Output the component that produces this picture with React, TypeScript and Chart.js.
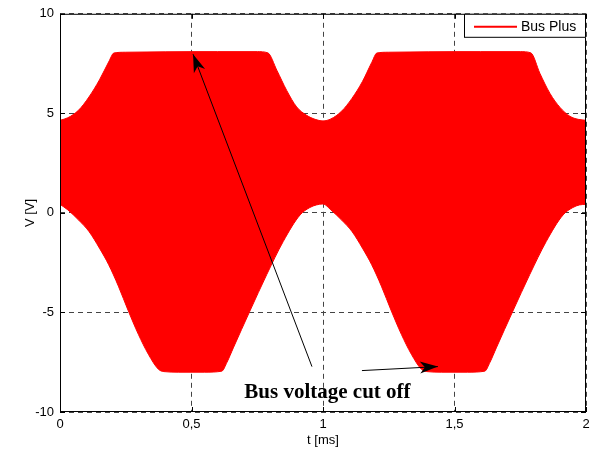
import React, { useEffect, useRef } from "react";
import { Chart, registerables } from "chart.js";

Chart.register(...registerables);

// ---- data ----
const SERIES_LABEL = "Bus Plus";
const X_TICKS = [0, 0.5, 1, 1.5, 2];
const X_TICK_LABELS = ["0", "0,5", "1", "1,5", "2"];
const Y_TICKS = [-10, -5, 0, 5, 10];
const Y_TICK_LABELS = ["-10", "-5", "0", "5", "10"];

// upper envelope of the switching waveform (t in ms, V)
const UPPER_T = [0, 0.03, 0.07, 0.11, 0.15, 0.185, 0.205, 0.25, 0.4, 0.5, 0.6, 0.75, 0.79, 0.825, 0.862, 0.9, 0.938, 0.97, 1.0,
  1.03, 1.07, 1.11, 1.15, 1.185, 1.205, 1.25, 1.4, 1.5, 1.6, 1.75, 1.79, 1.825, 1.863, 1.901, 1.939, 1.97, 2.0];
const UPPER_V = [4.65, 4.78, 5.15, 5.82, 6.68, 7.58, 8.03, 8.07, 8.09, 8.1, 8.1, 8.1, 8.04, 7.15, 6.15, 5.32, 4.9, 4.7, 4.62,
  4.72, 5.1, 5.75, 6.6, 7.55, 8.03, 8.07, 8.09, 8.1, 8.1, 8.1, 8.04, 7.0, 6.0, 5.3, 4.85, 4.7, 4.65];

// lower envelope
const LOWER_T = [0, 0.03, 0.07, 0.11, 0.15, 0.185, 0.222, 0.26, 0.298, 0.336, 0.374, 0.395, 0.45, 0.55, 0.615, 0.635, 0.659, 0.722, 0.786, 0.849, 0.913, 0.95, 0.975, 1.0,
  1.03, 1.07, 1.11, 1.15, 1.185, 1.222, 1.26, 1.298, 1.336, 1.374, 1.395, 1.45, 1.55, 1.615, 1.635, 1.659, 1.722, 1.786, 1.849, 1.913, 1.95, 1.975, 2.0];
const LOWER_V = [0.43, 0.15, -0.35, -0.93, -1.77, -2.6, -3.68, -4.93, -6.1, -7.1, -7.85, -7.97, -8.0, -8.0, -7.95, -7.5, -6.78, -4.93, -3.1, -1.43, -0.1, 0.27, 0.4, 0.45,
  0.15, -0.35, -0.93, -1.77, -2.6, -3.68, -4.93, -6.1, -7.1, -7.85, -7.97, -8.0, -8.0, -7.95, -7.5, -6.78, -4.93, -3.1, -1.43, -0.1, 0.27, 0.4, 0.43];

// annotation (data units)
const NOTE_TEXT = "Bus voltage cut off";
const NOTE_POS = { x: 1.017, y: -9.32 };
const ARROW_1 = { from: { x: 0.958, y: -7.72 }, to: { x: 0.506, y: 7.97 } };
const ARROW_2 = { from: { x: 1.148, y: -7.92 }, to: { x: 1.437, y: -7.72 } };

const SANS = "'Liberation Sans', Arial, Helvetica, sans-serif";
const SERIF = "'Liberation Serif', 'Times New Roman', serif";

function drawArrow(ctx: CanvasRenderingContext2D, x1: number, y1: number, x2: number, y2: number) {
  ctx.beginPath();
  ctx.moveTo(x1, y1);
  ctx.lineTo(x2, y2);
  ctx.stroke();
  const a = Math.atan2(y2 - y1, x2 - x1);
  const c = Math.cos(a), s = Math.sin(a);
  const L = 18, W = 6, N = 5;
  ctx.beginPath();
  ctx.moveTo(x2, y2);
  ctx.lineTo(x2 - L * c + W * s, y2 - L * s - W * c);
  ctx.lineTo(x2 - (L - N) * c, y2 - (L - N) * s);
  ctx.lineTo(x2 - L * c - W * s, y2 - L * s + W * c);
  ctx.closePath();
  ctx.fill();
}

const overlayPlugin = {
  id: "overlay",
  afterDatasetsDraw(chart: any) {
    const { ctx, chartArea: a, scales } = chart;
    const xs = scales.x, ys = scales.y;
    ctx.save();
    ctx.strokeStyle = "#000";
    ctx.fillStyle = "#000";
    ctx.lineWidth = 1;
    // box
    ctx.strokeRect(a.left + 0.5, a.top + 0.5, a.right - a.left - 1, a.bottom - a.top - 1);
    // inward ticks
    const TL = 5;
    ctx.beginPath();
    X_TICKS.forEach((v) => {
      const px = Math.round(xs.getPixelForValue(v)) + 0.5;
      ctx.moveTo(px, a.bottom);
      ctx.lineTo(px, a.bottom - TL);
      ctx.moveTo(px, a.top);
      ctx.lineTo(px, a.top + TL);
    });
    Y_TICKS.forEach((v) => {
      const py = Math.round(ys.getPixelForValue(v)) + 0.5;
      ctx.moveTo(a.left, py);
      ctx.lineTo(a.left + TL, py);
      ctx.moveTo(a.right, py);
      ctx.lineTo(a.right - TL, py);
    });
    ctx.stroke();

    // legend
    const lw = 122, lh = 24;
    const lx = a.right - lw, ly = a.top;
    ctx.fillStyle = "#fff";
    ctx.fillRect(lx, ly, lw, lh);
    ctx.strokeStyle = "#000";
    ctx.strokeRect(lx + 0.5, ly + 0.5, lw - 1, lh - 1);
    ctx.strokeStyle = "#ff0000";
    ctx.lineWidth = 2;
    ctx.beginPath();
    ctx.moveTo(lx + 10, ly + 13);
    ctx.lineTo(lx + 53, ly + 13);
    ctx.stroke();
    ctx.fillStyle = "#000";
    ctx.font = "14px " + SANS;
    ctx.textAlign = "left";
    ctx.textBaseline = "middle";
    ctx.fillText(chart.data.datasets[0].label, lx + 57, ly + 13);

    // annotation arrows + text
    ctx.strokeStyle = "#000";
    ctx.fillStyle = "#000";
    ctx.lineWidth = 1;
    [ARROW_1, ARROW_2].forEach((ar) => {
      drawArrow(
        ctx,
        xs.getPixelForValue(ar.from.x), ys.getPixelForValue(ar.from.y),
        xs.getPixelForValue(ar.to.x), ys.getPixelForValue(ar.to.y)
      );
    });
    ctx.font = "bold 21px " + SERIF;
    ctx.textAlign = "center";
    ctx.textBaseline = "alphabetic";
    ctx.fillText(NOTE_TEXT, xs.getPixelForValue(NOTE_POS.x), ys.getPixelForValue(NOTE_POS.y));
    ctx.restore();
  },
};

export default function App() {
  const ref = useRef<HTMLCanvasElement | null>(null);
  useEffect(() => {
    document.body.style.margin = "0";
    const canvas = ref.current!;
    Chart.defaults.font.family = SANS;
    Chart.defaults.color = "#000";
    const upper = UPPER_T.map((t, i) => ({ x: t, y: UPPER_V[i] }));
    const lower = LOWER_T.map((t, i) => ({ x: t, y: LOWER_V[i] }));
    const chart = new Chart(canvas, {
      type: "line",
      data: {
        datasets: [
          {
            label: SERIES_LABEL,
            data: upper,
            borderColor: "#ff0000",
            backgroundColor: "#ff0000",
            borderWidth: 1,
            pointRadius: 0,
            cubicInterpolationMode: "monotone",
            fill: false,
          },
          {
            label: SERIES_LABEL + " (min)",
            data: lower,
            borderColor: "#ff0000",
            backgroundColor: "#ff0000",
            borderWidth: 1,
            pointRadius: 0,
            cubicInterpolationMode: "monotone",
            fill: "-1",
          },
        ],
      },
      options: {
        animation: false,
        responsive: false,
        maintainAspectRatio: false,
        layout: { padding: { top: 13, right: 9, left: 0, bottom: 0 } },
        plugins: { legend: { display: false }, tooltip: { enabled: false } },
        scales: {
          x: {
            type: "linear",
            min: 0,
            max: 2,
            afterBuildTicks: (s: any) => {
              s.ticks = X_TICKS.map((v) => ({ value: v }));
            },
            afterFit: (s: any) => {
              s.height = 38;
            },
            ticks: {
              callback: (v: any, i: number) => X_TICK_LABELS[i],
              maxRotation: 0,
              padding: 5,
              font: { size: 13 },
              color: "#000",
            },
            grid: { color: "#444", lineWidth: 1, drawTicks: false },
            border: { display: false, dash: [5, 4] },
            title: { display: true, text: "t [ms]", font: { size: 13 }, color: "#000", padding: { top: 0, bottom: 2 } },
          },
          y: {
            type: "linear",
            min: -10,
            max: 10,
            afterBuildTicks: (s: any) => {
              s.ticks = Y_TICKS.map((v) => ({ value: v }));
            },
            afterFit: (s: any) => {
              s.width = 60;
            },
            ticks: {
              callback: (v: any, i: number) => Y_TICK_LABELS[i],
              padding: 6,
              font: { size: 13 },
              color: "#000",
            },
            grid: { color: "#444", lineWidth: 1, drawTicks: false },
            border: { display: false, dash: [5, 4] },
            title: { display: true, text: "V [V]", font: { size: 13 }, color: "#000", padding: { top: 23, bottom: 0 } },
          },
        },
      },
      plugins: [overlayPlugin],
    } as any);
    return () => chart.destroy();
  }, []);
  return <canvas ref={ref} width={595} height={450} style={{ display: "block", width: 595, height: 450 }} />;
}
